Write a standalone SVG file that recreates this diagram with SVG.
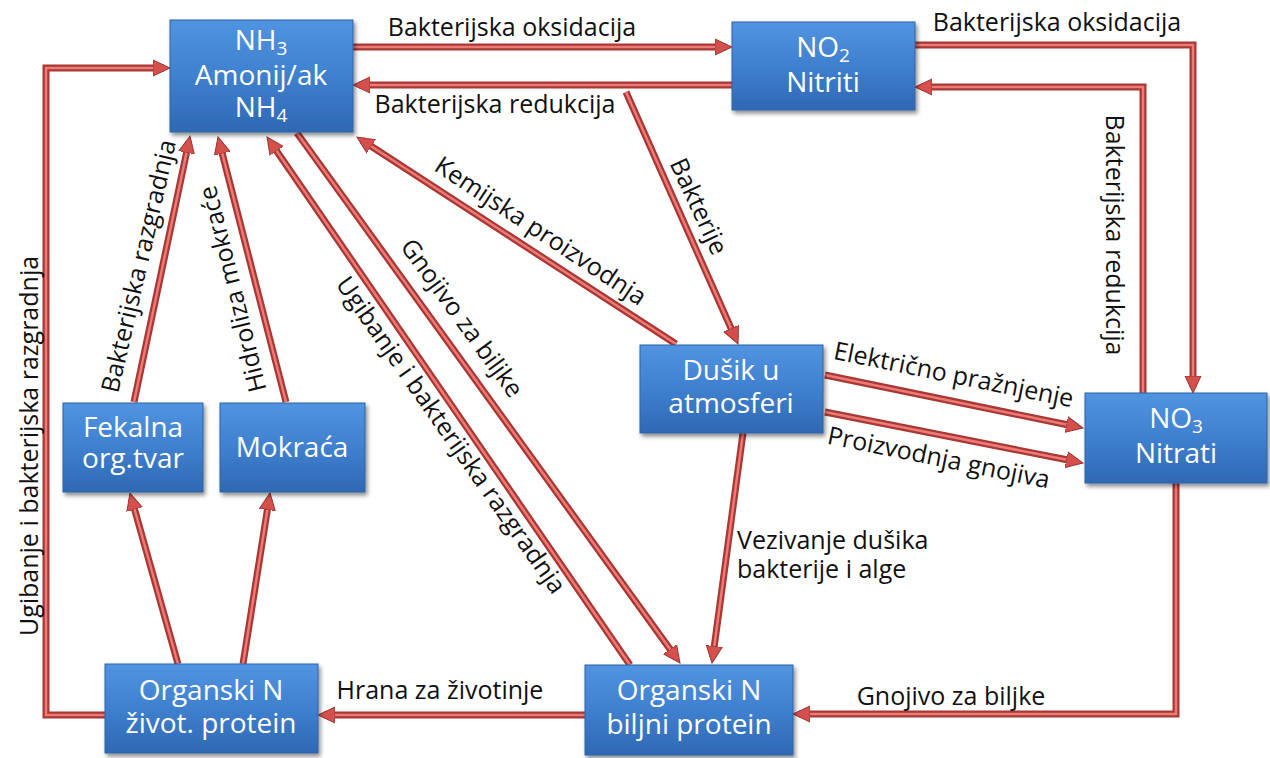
<svg xmlns="http://www.w3.org/2000/svg" width="1270" height="758" viewBox="0 0 1270 758">
<style>
.node rect{fill:url(#bg);stroke:#2d64a8;stroke-width:1;filter:url(#sh)}
.nt{font-family:"Open Sans","Liberation Sans",sans-serif;font-size:28px;fill:#ffffff;text-anchor:middle}
.sub{font-size:19px}
.lb{font-family:"Open Sans","Liberation Sans",sans-serif;font-size:25px;fill:#111111}
.mid{text-anchor:middle}
.outer path{fill:none;stroke:#a93734;stroke-width:7;stroke-linejoin:miter}
.inner path{fill:none;stroke:#ec7b77;stroke-width:2.5;stroke-linejoin:miter;marker-end:url(#ah)}
</style>
<defs>
<linearGradient id="bg" x1="0" y1="0" x2="0" y2="1">
<stop offset="0" stop-color="#5194e0"/>
<stop offset="0.5" stop-color="#3f80cf"/>
<stop offset="1" stop-color="#2f68b3"/>
</linearGradient>
<filter id="sh" x="-10%" y="-10%" width="125%" height="130%">
<feDropShadow dx="2" dy="3" stdDeviation="2" flood-color="#000" flood-opacity="0.45"/>
</filter>
<marker id="ah" markerUnits="userSpaceOnUse" markerWidth="18" markerHeight="18" viewBox="0 0 18 18" refX="11" refY="9" orient="auto">
<path d="M0,1 L17,9 L0,17 z" fill="#d4504c" stroke="#9e3431" stroke-width="1"/>
</marker>
</defs>
<rect width="1270" height="758" fill="#ffffff"/>

<g id="connectors">
<g class="outer">
<path d="M353,47 H726"/>
<path d="M732,85 H359"/>
<path d="M915,45 H1193 V387"/>
<path d="M1143,393 V87 H921"/>
<path d="M626,92 L735.6,338.5"/>
<path d="M676,344 L362,140.3"/>
<path d="M825,375 L1077.1,426.8"/>
<path d="M825,412 L1077.1,461.8"/>
<path d="M743,433 L712.8,657.1"/>
<path d="M1176,483 V714 H799"/>
<path d="M585,715 H324"/>
<path d="M105,715 H46 V68 H164"/>
<path d="M178,664 L131.6,498.8"/>
<path d="M243,664 L269.1,498.9"/>
<path d="M134,402 L188.8,141.9"/>
<path d="M286,402 L219.5,142.8"/>
<path d="M297,133 L676.5,658.1"/>
<path d="M630,665 L270.4,141.9"/>
</g>
<g class="inner">
<path d="M353,47 H726"/>
<path d="M732,85 H359"/>
<path d="M915,45 H1193 V387"/>
<path d="M1143,393 V87 H921"/>
<path d="M626,92 L735.6,338.5"/>
<path d="M676,344 L362,140.3"/>
<path d="M825,375 L1077.1,426.8"/>
<path d="M825,412 L1077.1,461.8"/>
<path d="M743,433 L712.8,657.1"/>
<path d="M1176,483 V714 H799"/>
<path d="M585,715 H324"/>
<path d="M105,715 H46 V68 H164"/>
<path d="M178,664 L131.6,498.8"/>
<path d="M243,664 L269.1,498.9"/>
<path d="M134,402 L188.8,141.9"/>
<path d="M286,402 L219.5,142.8"/>
<path d="M297,133 L676.5,658.1"/>
<path d="M630,665 L270.4,141.9"/>
</g>
</g>

<g id="n-nh3" class="node">
<rect x="170" y="20" width="183" height="112"/>
<text class="nt" x="261" y="50">NH<tspan class="sub" dy="5">3</tspan></text>
<text class="nt" x="261" y="85">Amonij/ak</text>
<text class="nt" x="261" y="117">NH<tspan class="sub" dy="5">4</tspan></text>
</g>
<g id="n-no2" class="node">
<rect x="732" y="22" width="183" height="88"/>
<text class="nt" x="823" y="57">NO<tspan class="sub" dy="5">2</tspan></text>
<text class="nt" x="823" y="92">Nitriti</text>
</g>
<g id="n-dusik" class="node">
<rect x="640" y="345" width="183" height="88"/>
<text class="nt" x="731" y="380">Dušik u</text>
<text class="nt" x="731" y="413">atmosferi</text>
</g>
<g id="n-no3" class="node">
<rect x="1085" y="393" width="182" height="90"/>
<text class="nt" x="1176" y="428">NO<tspan class="sub" dy="5">3</tspan></text>
<text class="nt" x="1176" y="463">Nitrati</text>
</g>
<g id="n-fekalna" class="node">
<rect x="63" y="403" width="140" height="89"/>
<text class="nt" x="133" y="437">Fekalna</text>
<text class="nt" x="133" y="468">org.tvar</text>
</g>
<g id="n-mokraca" class="node">
<rect x="220" y="403" width="145" height="89"/>
<text class="nt" x="292" y="457">Mokraća</text>
</g>
<g id="n-zivot" class="node">
<rect x="105" y="664" width="213" height="89"/>
<text class="nt" x="211" y="700">Organski N</text>
<text class="nt" x="211" y="733">život. protein</text>
</g>
<g id="n-biljni" class="node">
<rect x="585" y="665" width="208" height="90"/>
<text class="nt" x="689" y="700">Organski N</text>
<text class="nt" x="689" y="734">biljni protein</text>
</g>

<g id="labels">
<text class="lb mid" x="512" y="36">Bakterijska oksidacija</text>
<text class="lb mid" x="495" y="113">Bakterijska redukcija</text>
<text class="lb mid" x="1057" y="31">Bakterijska oksidacija</text>
<text class="lb mid" transform="translate(1106,235) rotate(90)">Bakterijska redukcija</text>
<text class="lb mid" transform="translate(691,210) rotate(65)">Bakterije</text>
<text class="lb mid" transform="translate(536,238) rotate(33.5)">Kemijska proizvodnja</text>
<text class="lb mid" transform="translate(952,383) rotate(11.5)">Električno pražnjenje</text>
<text class="lb mid" transform="translate(937,466) rotate(11.5)">Proizvodnja gnojiva</text>
<text class="lb" x="737" y="549">Vezivanje dušika</text>
<text class="lb" x="737" y="578">bakterije i alge</text>
<text class="lb mid" x="951" y="705">Gnojivo za biljke</text>
<text class="lb mid" x="440" y="699">Hrana za životinje</text>
<text class="lb mid" transform="translate(38,446) rotate(-90)">Ugibanje i bakterijska razgradnja</text>
<text class="lb mid" transform="translate(147,268) rotate(-77)">Bakterijska razgradnja</text>
<text class="lb mid" transform="translate(241,287) rotate(-104)">Hidroliza mokraće</text>
<text class="lb mid" transform="translate(455,323) rotate(54)">Gnojivo za biljke</text>
<text class="lb mid" transform="translate(444,440) rotate(55)">Ugibanje i bakterijska razgradnja</text>
</g>
</svg>
